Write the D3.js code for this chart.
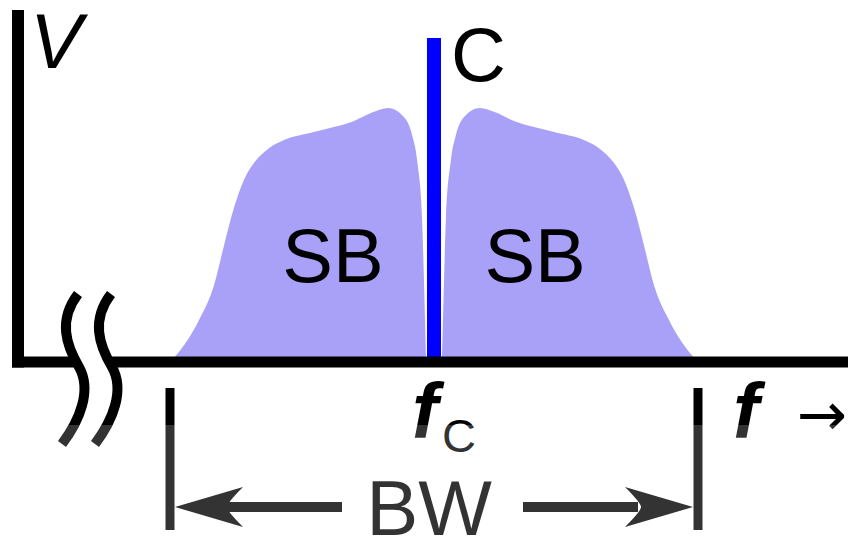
<!DOCTYPE html>
<html>
<head>
<meta charset="utf-8">
<script src="https://cdn.jsdelivr.net/npm/d3@7"></script>
<style>
	body { margin: 0; background: #fff; }
	svg { display: block; }
	text { font-family: "Liberation Sans", Arial, sans-serif; fill: #000; }
</style>
</head>
<body>
<div id="chart"></div>
<script>

///////////////////////////////////////////////////////////////////////////
//////////////////////////////// Data /////////////////////////////////////
///////////////////////////////////////////////////////////////////////////

//Upper sideband, offset from the carrier (BW/2 = 10) and amplitude (carrier = 100)
var sbOffset = [0.30, 0.38, 0.45, 0.64, 0.83, 1.14, 1.74, 2.27, 3.03, 4.55, 5.68, 6.25, 6.82, 7.20, 7.58, 7.95, 8.33, 8.90, 9.47, 10];
var sbAmp    = [0,    25.3, 43.8, 62.3, 70.1, 75.6, 78.4, 77.2, 74.4, 71.0, 68.5, 66.0, 61.4, 56.2, 47.5, 36.1, 23.8, 13.0, 5.2,  0];

var carrierOffset = 0,
	carrierAmp = 100;
var bwEdges = [-10, 10];
var sbLabels = ["SB", "SB"];

///////////////////////////////////////////////////////////////////////////
//////////////////////////// Set up the svg ///////////////////////////////
///////////////////////////////////////////////////////////////////////////

var width = 848,
	height = 540;

var svg = d3.select("#chart").append("svg")
	.attr("width", width)
	.attr("height", height);

var x = d3.scaleLinear().domain([-10, 10]).range([170, 698]);
var y = d3.scaleLinear().domain([0, 100]).range([362, 38]);

var axisY = y(0),
	axisX = 18;

///////////////////////////////////////////////////////////////////////////
////////////////////////////// Sidebands //////////////////////////////////
///////////////////////////////////////////////////////////////////////////

var usb = sbOffset.map(function(d, i) { return {f: d, a: sbAmp[i]}; });
var lsb = usb.map(function(d) { return {f: -d.f, a: d.a}; }).reverse();

var area = d3.area()
	.x(function(d) { return x(d.f); })
	.y0(axisY)
	.y1(function(d) { return y(d.a); })
	.curve(d3.curveMonotoneX);

svg.selectAll(".sideband")
	.data([lsb, usb])
	.enter().append("path")
	.attr("class", "sideband")
	.attr("d", area)
	.style("fill", "#a9a0f7");

//Sideband labels
svg.selectAll(".sb-label")
	.data(sbLabels)
	.enter().append("text")
	.attr("class", "sb-label")
	.attr("x", function(d, i) { return x(i === 0 ? -3.83 : 3.83); })
	.attr("y", 282)
	.attr("text-anchor", "middle")
	.style("font-size", "76px")
	.text(function(d) { return d; });

///////////////////////////////////////////////////////////////////////////
/////////////////////////////// Carrier ///////////////////////////////////
///////////////////////////////////////////////////////////////////////////

svg.append("line")
	.attr("x1", x(carrierOffset)).attr("x2", x(carrierOffset))
	.attr("y1", y(carrierAmp)).attr("y2", axisY)
	.style("stroke", "#0000ff")
	.style("stroke-width", 14);

svg.append("text")
	.attr("x", x(carrierOffset) + 17)
	.attr("y", 81)
	.style("font-size", "76px")
	.text("C");

///////////////////////////////////////////////////////////////////////////
//////////////////////////////// Axes /////////////////////////////////////
///////////////////////////////////////////////////////////////////////////

svg.append("line")
	.attr("x1", axisX).attr("x2", axisX)
	.attr("y1", 10).attr("y2", axisY + 5.5)
	.style("stroke", "#000")
	.style("stroke-width", 12);

svg.append("line")
	.attr("x1", axisX - 6).attr("x2", width)
	.attr("y1", axisY).attr("y2", axisY)
	.style("stroke", "#000")
	.style("stroke-width", 11);

//Axis break
var breakPath = "M78,294 C58,320 66,345 79,367 C92,390 80,420 62,444";
var breakGap = 33;
svg.append("path")
	.attr("d", "M78,294 C58,320 66,345 79,367 C92,390 80,420 62,444 L" + (62 + breakGap) + ",444 C" +
		(80 + breakGap) + ",420 " + (92 + breakGap) + ",390 " + (79 + breakGap) + ",367 C" +
		(66 + breakGap) + ",345 " + (58 + breakGap) + ",320 " + (78 + breakGap) + ",294 Z")
	.style("fill", "#fff");
svg.selectAll(".break")
	.data([0, breakGap])
	.enter().append("path")
	.attr("class", "break")
	.attr("d", breakPath)
	.attr("transform", function(d) { return "translate(" + d + ",0)"; })
	.style("fill", "none")
	.style("stroke", "#000")
	.style("stroke-width", 10);

//Axis labels
svg.append("text")
	.attr("x", 30)
	.attr("y", 68)
	.style("font-size", "78px")
	.style("font-style", "italic")
	.text("V");

var fc = svg.append("text")
	.attr("x", x(carrierOffset) - 22)
	.attr("y", 438);
fc.append("tspan")
	.style("font-size", "78px")
	.style("font-style", "italic")
	.style("font-weight", "bold")
	.text("f");
fc.append("tspan")
	.attr("dx", 4)
	.attr("dy", 14)
	.style("font-size", "47px")
	.text("C");

svg.append("text")
	.attr("x", 733)
	.attr("y", 438)
	.style("font-size", "78px")
	.style("font-style", "italic")
	.style("font-weight", "bold")
	.text("f");

svg.append("text")
	.attr("x", 797)
	.attr("y", 435)
	.style("font-family", "DejaVu Sans")
	.style("font-size", "60px")
	.text("\u2192");

///////////////////////////////////////////////////////////////////////////
////////////////////////////// Bandwidth //////////////////////////////////
///////////////////////////////////////////////////////////////////////////

var bwY = 507;

svg.selectAll(".bw-tick")
	.data(bwEdges)
	.enter().append("line")
	.attr("class", "bw-tick")
	.attr("x1", function(d) { return x(d); }).attr("x2", function(d) { return x(d); })
	.attr("y1", 388).attr("y2", 530)
	.style("stroke", "#000")
	.style("stroke-width", 9);

//Arrow shafts
svg.selectAll(".bw-shaft")
	.data([[x(-10) + 55, x(-10) + 172], [x(10) - 175, x(10) - 60]])
	.enter().append("line")
	.attr("class", "bw-shaft")
	.attr("x1", function(d) { return d[0]; }).attr("x2", function(d) { return d[1]; })
	.attr("y1", bwY).attr("y2", bwY)
	.style("stroke", "#000")
	.style("stroke-width", 10);

//Arrow heads
svg.selectAll(".bw-head")
	.data(bwEdges)
	.enter().append("path")
	.attr("class", "bw-head")
	.attr("d", function(d) {
		var s = d < 0 ? 1 : -1,
			tip = x(d) + s * 5;
		return "M" + tip + "," + bwY +
			"L" + (tip + s * 68) + "," + (bwY - 20) +
			"Q" + (tip + s * 52) + "," + (bwY - 4) + " " + (tip + s * 52) + "," + bwY +
			"Q" + (tip + s * 52) + "," + (bwY + 4) + " " + (tip + s * 68) + "," + (bwY + 20) + "Z";
	})
	.style("fill", "#000");

svg.append("text")
	.attr("x", x(0) - 5)
	.attr("y", 535)
	.attr("text-anchor", "middle")
	.style("font-size", "78px")
	.text("BW");

//Light wash over the lower part of the picture
svg.append("rect")
	.attr("x", 0).attr("y", 425)
	.attr("width", width).attr("height", height - 425)
	.style("fill", "#fff")
	.style("opacity", 0.2);

</script>
</body>
</html>
